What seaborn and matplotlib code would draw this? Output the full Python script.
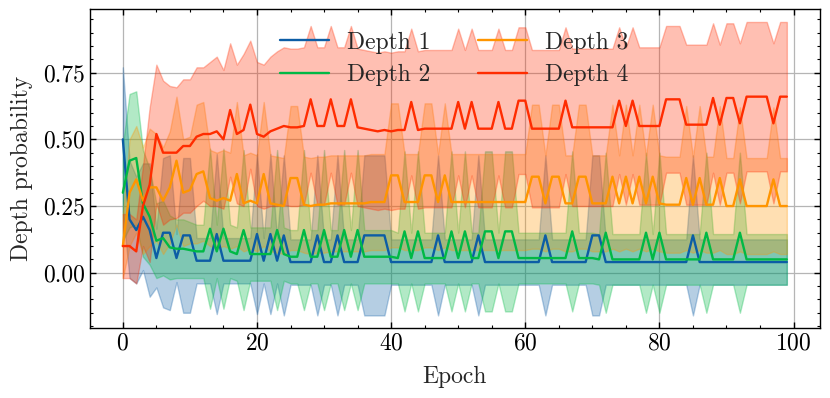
import matplotlib
matplotlib.use("Agg")
import matplotlib.pyplot as plt
import seaborn as sns
from matplotlib.ticker import AutoMinorLocator, MultipleLocator, FormatStrFormatter

# ---------------------------------------------------------------------------
# Data: mean and std per epoch
epochs = list(range(100))
labels = ["Depth 1", "Depth 2", "Depth 3", "Depth 4"]
colors = ["#0C5DA5", "#00B945", "#FF9500", "#FF2C00"]

depth1_mean = [0.50, 0.20, 0.16, 0.21, 0.16, 0.055, 0.15, 0.15, 0.055, 0.14, 0.14,
               0.045, 0.045, 0.045, 0.145, 0.045, 0.045, 0.045, 0.045, 0.045, 0.145,
               0.045, 0.145, 0.045, 0.14, 0.04, 0.04, 0.04, 0.04, 0.14, 0.04,
               0.04, 0.14, 0.04, 0.04, 0.04, 0.14, 0.14, 0.14, 0.14, 0.04,
               0.04, 0.04, 0.04, 0.04, 0.04, 0.04, 0.14, 0.04, 0.04, 0.04,
               0.04, 0.04, 0.14, 0.04, 0.04, 0.04, 0.04, 0.04, 0.04, 0.04,
               0.04, 0.04, 0.14, 0.04, 0.04, 0.04, 0.04, 0.04, 0.04, 0.14,
               0.14, 0.04, 0.04, 0.04, 0.04, 0.04, 0.04, 0.04, 0.04, 0.04,
               0.04, 0.04, 0.04, 0.04, 0.14, 0.04, 0.04, 0.04, 0.04, 0.04,
               0.04, 0.04, 0.04, 0.04, 0.04, 0.04, 0.04, 0.04, 0.04]
depth1_std = [0.27, 0.22, 0.20, 0.20, 0.25, 0.11, 0.28, 0.29, 0.09, 0.29, 0.29,
              0.085, 0.085, 0.085, 0.30, 0.085, 0.085, 0.085, 0.085, 0.085, 0.30,
              0.085, 0.30, 0.085, 0.30, 0.085, 0.085, 0.085, 0.085, 0.30, 0.085,
              0.085, 0.30, 0.085, 0.085, 0.085, 0.30, 0.30, 0.30, 0.30, 0.085,
              0.085, 0.085, 0.085, 0.085, 0.085, 0.085, 0.30, 0.085, 0.085, 0.085,
              0.085, 0.085, 0.30, 0.085, 0.085, 0.085, 0.085, 0.085, 0.085, 0.085,
              0.085, 0.085, 0.30, 0.085, 0.085, 0.085, 0.085, 0.085, 0.085, 0.30,
              0.30, 0.085, 0.085, 0.085, 0.085, 0.085, 0.085, 0.085, 0.085, 0.085,
              0.085, 0.085, 0.085, 0.085, 0.30, 0.085, 0.085, 0.085, 0.085, 0.085,
              0.085, 0.085, 0.085, 0.085, 0.085, 0.085, 0.085, 0.085, 0.085]

depth2_mean = [0.30, 0.42, 0.43, 0.26, 0.21, 0.12, 0.13, 0.095, 0.09, 0.09, 0.085,
               0.08, 0.08, 0.165, 0.08, 0.165, 0.08, 0.07, 0.16, 0.07, 0.07,
               0.07, 0.07, 0.16, 0.07, 0.06, 0.06, 0.16, 0.06, 0.06, 0.16,
               0.06, 0.06, 0.16, 0.06, 0.16, 0.06, 0.06, 0.06, 0.06, 0.06,
               0.055, 0.155, 0.055, 0.155, 0.055, 0.055, 0.055, 0.055, 0.155, 0.055,
               0.155, 0.055, 0.055, 0.155, 0.155, 0.055, 0.155, 0.155, 0.055, 0.055,
               0.055, 0.055, 0.055, 0.055, 0.055, 0.055, 0.155, 0.055, 0.055, 0.055,
               0.05, 0.15, 0.05, 0.05, 0.05, 0.05, 0.05, 0.15, 0.05, 0.15,
               0.05, 0.05, 0.05, 0.05, 0.05, 0.05, 0.15, 0.05, 0.05, 0.05,
               0.05, 0.15, 0.05, 0.05, 0.05, 0.05, 0.05, 0.05, 0.05]
depth2_std = [0.18, 0.25, 0.25, 0.20, 0.18, 0.14, 0.14, 0.12, 0.11, 0.11, 0.105,
              0.10, 0.10, 0.30, 0.10, 0.30, 0.10, 0.10, 0.30, 0.10, 0.10,
              0.10, 0.10, 0.30, 0.10, 0.10, 0.10, 0.30, 0.10, 0.10, 0.30,
              0.10, 0.10, 0.30, 0.10, 0.30, 0.10, 0.10, 0.10, 0.10, 0.10,
              0.095, 0.30, 0.095, 0.30, 0.095, 0.095, 0.095, 0.095, 0.30, 0.095,
              0.30, 0.095, 0.095, 0.30, 0.30, 0.095, 0.30, 0.30, 0.095, 0.095,
              0.095, 0.095, 0.095, 0.095, 0.095, 0.095, 0.30, 0.095, 0.095, 0.095,
              0.095, 0.30, 0.095, 0.095, 0.095, 0.095, 0.095, 0.30, 0.095, 0.30,
              0.095, 0.095, 0.095, 0.095, 0.095, 0.095, 0.30, 0.095, 0.095, 0.095,
              0.095, 0.30, 0.095, 0.095, 0.095, 0.095, 0.095, 0.095, 0.095]

depth3_mean = [0.10, 0.30, 0.35, 0.27, 0.32, 0.32, 0.27, 0.32, 0.42, 0.30, 0.31,
               0.37, 0.38, 0.28, 0.27, 0.28, 0.27, 0.37, 0.26, 0.27, 0.26,
               0.37, 0.26, 0.255, 0.25, 0.355, 0.355, 0.255, 0.25, 0.255, 0.255,
               0.26, 0.26, 0.26, 0.26, 0.26, 0.26, 0.265, 0.265, 0.265, 0.365,
               0.365, 0.265, 0.265, 0.265, 0.365, 0.365, 0.265, 0.365, 0.265, 0.265,
               0.265, 0.265, 0.265, 0.265, 0.265, 0.265, 0.265, 0.265, 0.265, 0.265,
               0.36, 0.36, 0.26, 0.36, 0.36, 0.26, 0.26, 0.36, 0.36, 0.26,
               0.26, 0.26, 0.36, 0.26, 0.36, 0.26, 0.36, 0.26, 0.36, 0.26,
               0.255, 0.255, 0.255, 0.355, 0.255, 0.355, 0.255, 0.255, 0.355, 0.25,
               0.25, 0.35, 0.25, 0.25, 0.25, 0.25, 0.35, 0.25, 0.25]
depth3_std = [0.12, 0.20, 0.20, 0.20, 0.22, 0.20, 0.20, 0.21, 0.24, 0.20, 0.20,
              0.26, 0.26, 0.18, 0.18, 0.18, 0.18, 0.27, 0.18, 0.18, 0.18,
              0.27, 0.18, 0.18, 0.18, 0.27, 0.27, 0.18, 0.18, 0.18, 0.18,
              0.18, 0.18, 0.18, 0.18, 0.18, 0.18, 0.18, 0.18, 0.18, 0.27,
              0.27, 0.18, 0.18, 0.18, 0.27, 0.27, 0.18, 0.27, 0.18, 0.18,
              0.18, 0.18, 0.18, 0.18, 0.18, 0.18, 0.18, 0.18, 0.18, 0.18,
              0.27, 0.27, 0.18, 0.27, 0.27, 0.18, 0.18, 0.27, 0.27, 0.18,
              0.18, 0.18, 0.27, 0.18, 0.27, 0.18, 0.27, 0.18, 0.27, 0.18,
              0.18, 0.18, 0.18, 0.27, 0.18, 0.27, 0.18, 0.18, 0.27, 0.18,
              0.18, 0.27, 0.18, 0.18, 0.18, 0.18, 0.27, 0.18, 0.18]

depth4_mean = [0.10, 0.10, 0.08, 0.25, 0.33, 0.52, 0.45, 0.45, 0.45, 0.475, 0.475,
               0.51, 0.52, 0.52, 0.53, 0.50, 0.61, 0.52, 0.535, 0.63, 0.52,
               0.51, 0.53, 0.54, 0.55, 0.545, 0.545, 0.55, 0.65, 0.55, 0.55,
               0.65, 0.55, 0.55, 0.65, 0.545, 0.54, 0.535, 0.53, 0.535, 0.53,
               0.535, 0.535, 0.64, 0.535, 0.54, 0.54, 0.54, 0.54, 0.54, 0.64,
               0.54, 0.64, 0.54, 0.54, 0.54, 0.64, 0.54, 0.54, 0.645, 0.645,
               0.54, 0.54, 0.54, 0.54, 0.54, 0.645, 0.545, 0.545, 0.545, 0.545,
               0.545, 0.545, 0.545, 0.645, 0.55, 0.645, 0.55, 0.55, 0.55, 0.55,
               0.65, 0.65, 0.65, 0.555, 0.555, 0.555, 0.555, 0.655, 0.555, 0.655,
               0.655, 0.56, 0.66, 0.66, 0.66, 0.66, 0.56, 0.66, 0.66]
depth4_std = [0.12, 0.12, 0.12, 0.15, 0.29, 0.26, 0.27, 0.25, 0.245, 0.25, 0.25,
              0.26, 0.25, 0.27, 0.28, 0.26, 0.25, 0.26, 0.285, 0.24, 0.27,
              0.27, 0.28, 0.29, 0.295, 0.295, 0.295, 0.295, 0.275, 0.295, 0.295,
              0.275, 0.295, 0.295, 0.275, 0.295, 0.295, 0.295, 0.295, 0.295, 0.295,
              0.295, 0.295, 0.275, 0.295, 0.295, 0.295, 0.295, 0.295, 0.295, 0.275,
              0.295, 0.275, 0.295, 0.295, 0.295, 0.275, 0.295, 0.295, 0.275, 0.275,
              0.295, 0.295, 0.295, 0.295, 0.295, 0.275, 0.295, 0.295, 0.295, 0.295,
              0.295, 0.295, 0.295, 0.275, 0.295, 0.275, 0.295, 0.295, 0.295, 0.295,
              0.275, 0.275, 0.275, 0.30, 0.30, 0.30, 0.30, 0.28, 0.30, 0.28,
              0.28, 0.30, 0.28, 0.28, 0.28, 0.28, 0.30, 0.28, 0.28]

means = [depth1_mean, depth2_mean, depth3_mean, depth4_mean]
stds = [depth1_std, depth2_std, depth3_std, depth4_std]
# ---------------------------------------------------------------------------

# ---------------------------------------------------------------------------
# Style (science-like: serif, ticks inside on all sides, minor ticks)
sns.set_style("ticks")
plt.rcParams.update({
    "font.family": ["cmr10", "DejaVu Serif"],
    "mathtext.fontset": "cm",
    "axes.formatter.use_mathtext": True,
    "font.size": 17,
    "axes.linewidth": 1.0,
    "xtick.direction": "in",
    "ytick.direction": "in",
    "xtick.top": True,
    "ytick.right": True,
    "xtick.major.size": 4.5,
    "ytick.major.size": 4.5,
    "xtick.minor.size": 2.3,
    "ytick.minor.size": 2.3,
    "xtick.major.width": 1.0,
    "ytick.major.width": 1.0,
    "xtick.minor.width": 0.8,
    "ytick.minor.width": 0.8,
    "xtick.color": "black",
    "ytick.color": "black",
    "axes.edgecolor": "black",
})

fig, ax = plt.subplots(figsize=(8.3, 3.98), dpi=100)
fig.subplots_adjust(left=0.108, right=0.988, top=0.977, bottom=0.176)

for lab, col, m, s in zip(labels, colors, means, stds):
    lower = [a - b for a, b in zip(m, s)]
    upper = [a + b for a, b in zip(m, s)]
    sns.lineplot(x=epochs, y=m, color=col, lw=1.7, label=lab, ax=ax)
    ax.fill_between(epochs, lower, upper, color=col, alpha=0.3)

ax.set_xlim(-4.95, 103.95)
ax.set_ylim(-0.207, 0.988)
ax.xaxis.set_major_locator(MultipleLocator(20))
ax.yaxis.set_major_locator(MultipleLocator(0.25))
ax.xaxis.set_minor_locator(AutoMinorLocator(4))
ax.yaxis.set_minor_locator(AutoMinorLocator(5))
ax.yaxis.set_major_formatter(FormatStrFormatter("%.2f"))
ax.grid(True, which="major", color="#b5b5b5", lw=0.9)
ax.set_axisbelow(True)

ax.set_xlabel("Epoch", labelpad=8)
ax.set_ylabel("Depth probability", labelpad=7)
ax.legend(loc="upper center", ncol=2, frameon=False, handlelength=2.1,
          handletextpad=0.75, columnspacing=2.0, labelspacing=0.45,
          borderaxespad=0.55, bbox_to_anchor=(0.499, 1.0))

fig.savefig("out.png", dpi=100)
